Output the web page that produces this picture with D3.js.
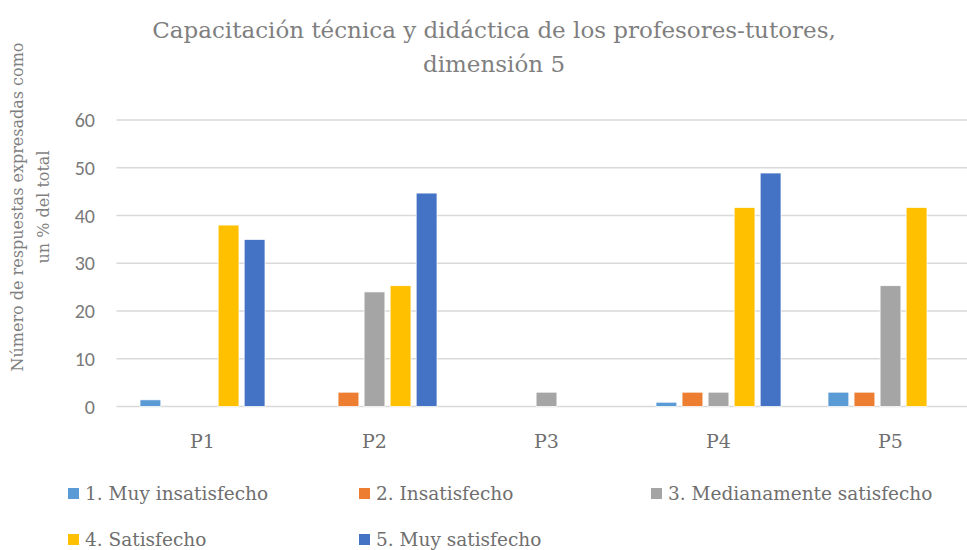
<!DOCTYPE html>
<html>
<head>
<meta charset="utf-8">
<script src="https://cdn.jsdelivr.net/npm/d3@7"></script>
<style>
  body { margin: 0; background: #fff; }
  svg { display: block; }
</style>
</head>
<body>
<script>
// Data
var categories = ["P1", "P2", "P3", "P4", "P5"];
var seriesNames = ["1. Muy insatisfecho", "2. Insatisfecho", "3. Medianamente satisfecho", "4. Satisfecho", "5. Muy satisfecho"];
var muyInsatisfecho = [1.4, 0, 0, 0.9, 3];
var insatisfecho = [0, 3, 0, 3, 3];
var medianamente = [0, 24, 3, 3, 25.3];
var satisfecho = [38, 25.3, 0, 41.7, 41.7];
var muySatisfecho = [35, 44.7, 0, 48.9, 0];
var yTicks = [0, 10, 20, 30, 40, 50, 60];
var colors = ["#5B9BD5", "#ED7D31", "#A5A5A5", "#FFC000", "#4472C4"];

var allSeries = [muyInsatisfecho, insatisfecho, medianamente, satisfecho, muySatisfecho];

var svgWidth = 967;
var svgHeight = 550;
var serif = "'Palatino Linotype', 'Book Antiqua', Palatino, 'DejaVu Serif', serif";
var sans = "Calibri, Carlito, 'Open Sans', 'Liberation Sans', sans-serif";

var svg = d3.select("body")
  .append("svg")
  .attr("width", svgWidth)
  .attr("height", svgHeight);

// plot area
var plotLeft = 116.5, plotRight = 976.5, plotTop = 120, plotBottom = 406.5;

var x0 = d3.scaleBand()
  .domain(categories)
  .range([plotLeft, plotRight]);

var x1 = d3.scaleBand()
  .domain(d3.range(seriesNames.length))
  .range([23.5, 148.5])
  .paddingInner(0.2);

var y = d3.scaleLinear()
  .domain([0, 60])
  .range([plotBottom, plotTop]);

// gridlines
svg.append("g")
  .selectAll("line")
  .data(yTicks)
  .enter()
  .append("line")
  .attr("x1", plotLeft)
  .attr("x2", svgWidth)
  .attr("y1", function(d) { return y(d); })
  .attr("y2", function(d) { return y(d); })
  .attr("stroke", "#d9d9d9")
  .attr("stroke-width", 1.5);

// y tick labels
svg.append("g")
  .selectAll("text")
  .data(yTicks)
  .enter()
  .append("text")
  .attr("x", 95)
  .attr("y", function(d) { return y(d); })
  .attr("dy", "0.35em")
  .attr("text-anchor", "end")
  .attr("font-family", sans)
  .attr("font-size", 20)
  .attr("fill", "#7a7a7a")
  .text(function(d) { return d; });

// bars
var groups = svg.append("g")
  .selectAll("g")
  .data(categories)
  .enter()
  .append("g")
  .attr("transform", function(d) { return "translate(" + x0(d) + ",0)"; });

groups.selectAll("rect")
  .data(function(d, i) {
    return allSeries.map(function(s, k) { return { k: k, v: s[i] }; })
      .filter(function(e) { return e.v > 0; });
  })
  .enter()
  .append("rect")
  .attr("x", function(d) { return x1(d.k); })
  .attr("y", function(d) { return y(d.v); })
  .attr("width", x1.bandwidth())
  .attr("height", function(d) { return y(0) - y(d.v); })
  .attr("fill", function(d) { return colors[d.k]; })
  .attr("stroke", "#fff")
  .attr("stroke-width", 0.75);

// category labels
svg.append("g")
  .selectAll("text")
  .data(categories)
  .enter()
  .append("text")
  .attr("x", function(d) { return x0(d) + x0.bandwidth() / 2; })
  .attr("y", 448)
  .attr("text-anchor", "middle")
  .attr("font-family", serif)
  .attr("font-size", 19)
  .attr("fill", "#6f6f6f")
  .text(function(d) { return d; });

// title
var title = svg.append("text")
  .attr("text-anchor", "middle")
  .attr("font-family", serif)
  .attr("font-size", 23)
  .attr("fill", "#7f7f7f");
title.append("tspan").attr("x", 494).attr("y", 38)
  .text("Capacitación técnica y didáctica de los profesores-tutores,");
title.append("tspan").attr("x", 494).attr("y", 72)
  .text("dimensión 5");

// y axis title
var yTitle = svg.append("text")
  .attr("transform", "translate(0,207) rotate(-90)")
  .attr("text-anchor", "middle")
  .attr("font-family", serif)
  .attr("font-size", 16)
  .attr("fill", "#7f7f7f");
yTitle.append("tspan").attr("x", 0).attr("y", 23)
  .text("Número de respuestas expresadas como");
yTitle.append("tspan").attr("x", 0).attr("y", 49)
  .text("un  % del total");

// legend
var legendPos = [[68, 494], [359, 494], [651, 494], [68, 540], [359, 540]];

var legend = svg.append("g")
  .selectAll("g")
  .data(seriesNames)
  .enter()
  .append("g")
  .attr("transform", function(d, i) { return "translate(" + legendPos[i][0] + "," + legendPos[i][1] + ")"; });

legend.append("rect")
  .attr("x", 0)
  .attr("y", -6)
  .attr("width", 11)
  .attr("height", 11)
  .attr("fill", function(d, i) { return colors[i]; });

legend.append("text")
  .attr("x", 17)
  .attr("y", 0)
  .attr("dy", "0.35em")
  .attr("font-family", serif)
  .attr("font-size", 18.5)
  .attr("fill", "#6f6f6f")
  .text(function(d) { return d; });
</script>
</body>
</html>
